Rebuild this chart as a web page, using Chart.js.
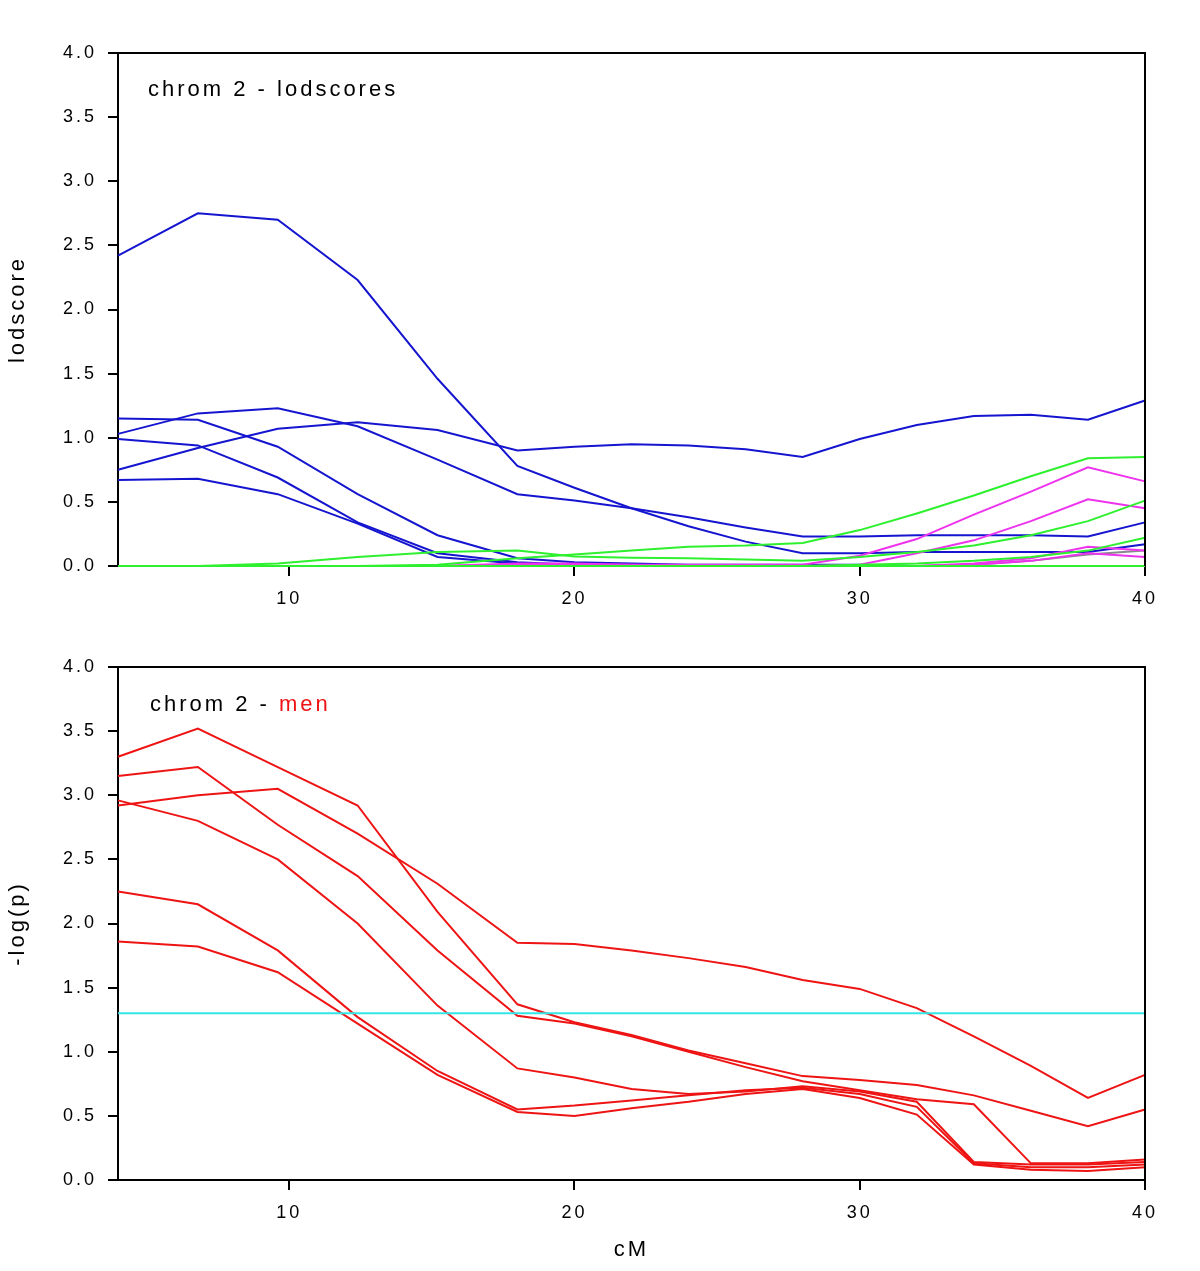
<!DOCTYPE html>
<html><head><meta charset="utf-8">
<script src="https://cdn.jsdelivr.net/npm/chart.js@4.4.0/dist/chart.umd.min.js"></script>
<style>
html,body{margin:0;padding:0;background:#fff;}
#wrap{position:relative;width:1200px;height:1271px;background:#fff;}
canvas{position:absolute;left:0;}
</style></head><body>
<div id="wrap">
<canvas id="topChart" width="1200" height="620" style="top:0"></canvas>
<canvas id="botChart" width="1200" height="651" style="top:620px"></canvas>
</div>
<script>
// ---- data ----
const cM = [4, 6.8, 9.6, 12.4, 15.2, 18, 20, 22, 24, 26, 28, 30, 32, 34, 36, 38, 40];
const xTickValues = [10, 20, 30, 40];

// top panel: lodscores
const lodBlue1 = [2.42, 2.75, 2.70, 2.23, 1.46, 0.78, 0.61, 0.45, 0.31, 0.19, 0.10, 0.10, 0.11, 0.11, 0.11, 0.11, 0.17];
const lodBlue2 = [1.15, 1.14, 0.93, 0.56, 0.24, 0.06, 0.03, 0.02, 0.01, 0.01, 0.01, 0.01, 0.00, 0.00, 0.00, 0.00, 0.00];
const lodBlue3 = [1.03, 1.19, 1.23, 1.09, 0.83, 0.56, 0.51, 0.45, 0.38, 0.30, 0.23, 0.23, 0.24, 0.24, 0.24, 0.23, 0.34];
const lodBlue4 = [0.75, 0.92, 1.07, 1.12, 1.06, 0.90, 0.93, 0.95, 0.94, 0.91, 0.85, 0.99, 1.10, 1.17, 1.18, 1.14, 1.29];
const lodBlue5 = [0.99, 0.94, 0.69, 0.34, 0.10, 0.03, 0.01, 0.01, 0.00, 0.00, 0.00, 0.00, 0.00, 0.00, 0.00, 0.00, 0.00];
const lodBlue6 = [0.67, 0.68, 0.56, 0.33, 0.07, 0.02, 0.01, 0.00, 0.00, 0.00, 0.00, 0.00, 0.00, 0.00, 0.00, 0.00, 0.00];
const lodGreen1 = [0.00, 0.00, 0.00, 0.00, 0.01, 0.06, 0.09, 0.12, 0.15, 0.16, 0.18, 0.28, 0.41, 0.55, 0.70, 0.84, 0.85];
const lodGreen2 = [0.00, 0.00, 0.02, 0.07, 0.11, 0.12, 0.075, 0.065, 0.06, 0.05, 0.04, 0.07, 0.11, 0.16, 0.24, 0.35, 0.51];
const lodGreen3 = [0.00, 0.00, 0.00, 0.00, 0.00, 0.00, 0.00, 0.00, 0.00, 0.00, 0.00, 0.01, 0.02, 0.04, 0.07, 0.12, 0.22];
const lodGreen4 = [0.00, 0.00, 0.00, 0.00, 0.00, 0.00, 0.00, 0.00, 0.00, 0.00, 0.00, 0.00, 0.00, 0.00, 0.00, 0.00, 0.00];
const lodMagenta1 = [0.00, 0.00, 0.00, 0.00, 0.00, 0.02, 0.02, 0.01, 0.01, 0.01, 0.01, 0.08, 0.21, 0.40, 0.58, 0.77, 0.66];
const lodMagenta2 = [0.00, 0.00, 0.00, 0.00, 0.00, 0.01, 0.01, 0.01, 0.00, 0.00, 0.00, 0.01, 0.10, 0.20, 0.35, 0.52, 0.45];
const lodMagenta3 = [0.00, 0.00, 0.00, 0.00, 0.00, 0.00, 0.00, 0.00, 0.00, 0.00, 0.00, 0.00, 0.00, 0.02, 0.06, 0.15, 0.12];
const lodMagenta4 = [0.00, 0.00, 0.00, 0.00, 0.00, 0.00, 0.00, 0.00, 0.00, 0.00, 0.00, 0.00, 0.00, 0.01, 0.04, 0.10, 0.07];
const lodGrey1 = [0.00, 0.00, 0.00, 0.00, 0.00, 0.00, 0.00, 0.00, 0.00, 0.00, 0.00, 0.00, 0.00, 0.01, 0.04, 0.09, 0.12];

// bottom panel: -log(p), men
const menRed1 = [3.30, 3.52, 3.22, 2.92, 2.09, 1.37, 1.23, 1.13, 1.01, 0.91, 0.81, 0.78, 0.74, 0.66, 0.54, 0.42, 0.55];
const menRed2 = [3.15, 3.22, 2.77, 2.37, 1.79, 1.28, 1.22, 1.12, 1.00, 0.88, 0.77, 0.70, 0.63, 0.59, 0.13, 0.13, 0.16];
const menRed3 = [2.92, 3.00, 3.05, 2.70, 2.31, 1.85, 1.84, 1.79, 1.73, 1.66, 1.56, 1.49, 1.34, 1.12, 0.89, 0.64, 0.82];
const menRed4 = [2.96, 2.80, 2.50, 2.00, 1.36, 0.87, 0.80, 0.71, 0.67, 0.69, 0.73, 0.69, 0.61, 0.14, 0.12, 0.12, 0.14];
const menRed5 = [2.25, 2.15, 1.79, 1.27, 0.85, 0.55, 0.58, 0.62, 0.66, 0.70, 0.72, 0.67, 0.57, 0.13, 0.10, 0.10, 0.12];
const menRed6 = [1.86, 1.82, 1.62, 1.22, 0.82, 0.53, 0.50, 0.56, 0.61, 0.67, 0.71, 0.64, 0.51, 0.12, 0.08, 0.07, 0.10];
const sigLevel = 1.3;

// ---- styling ----
const BLUE = '#1515d0', GREEN = '#2ef02e', MAGENTA = '#ee33ee', GREY = '#8a8a8a', RED = '#ee1414', CYAN = '#33e6e6';
const FONT = '"Liberation Sans", Arial, sans-serif';
Chart.defaults.font.family = FONT;
Chart.defaults.color = '#000';

function series(arr, color) {
  return {
    data: cM.map((x, i) => ({ x: x, y: arr[i] })),
    borderColor: color, borderWidth: 2, pointRadius: 0, fill: false, tension: 0, clip: false
  };
}

const spacing = {
  id: 'spacing',
  beforeLayout(chart) { chart.ctx.letterSpacing = '3px'; },
  beforeDraw(chart) { chart.ctx.letterSpacing = '3px'; }
};

const boxAndLabel = {
  id: 'boxAndLabel',
  afterDraw(chart, args, opts) {
    const ctx = chart.ctx, a = chart.chartArea;
    ctx.save();
    ctx.strokeStyle = '#000';
    ctx.lineWidth = 2;
    ctx.beginPath();
    ctx.moveTo(a.left - 1, a.top);
    ctx.lineTo(a.right, a.top);
    ctx.lineTo(a.right, a.bottom);
    ctx.stroke();
    ctx.letterSpacing = '3px';
    ctx.font = '22px ' + FONT;
    ctx.textBaseline = 'middle';
    ctx.textAlign = 'left';
    let x = a.left + opts.dx;
    const y = a.top + opts.dy;
    opts.parts.forEach(p => {
      ctx.fillStyle = p.color;
      ctx.fillText(p.text, x, y);
      x += ctx.measureText(p.text).width;
    });
    ctx.restore();
  }
};

function makeOptions(cfg) {
  return {
    responsive: false,
    animation: false,
    events: [],
    layout: { padding: { top: cfg.padTop, right: 55, left: 0, bottom: 0 } },
    plugins: {
      legend: { display: false },
      tooltip: { enabled: false },
      boxAndLabel: { dx: cfg.labelDx, dy: cfg.labelDy, parts: cfg.parts }
    },
    scales: {
      x: {
        type: 'linear', min: 4, max: 40,
        afterBuildTicks: s => { s.ticks = xTickValues.map(v => ({ value: v })); },
        afterFit: s => { s.height = cfg.xHeight; },
        grid: { display: true, drawOnChartArea: false, drawTicks: true, tickLength: 10, color: '#000', lineWidth: 2 },
        border: { display: true, color: '#000', width: 2 },
        ticks: { padding: 12, font: { size: 18 }, color: '#000', callback: v => String(v), maxRotation: 0 },
        title: cfg.xTitle ? { display: true, text: cfg.xTitle, font: { size: 22 }, color: '#000', padding: { top: 0, bottom: 8 } } : { display: false }
      },
      y: {
        type: 'linear', min: 0, max: 4,
        afterFit: s => { s.width = 118; },
        grid: { display: true, drawOnChartArea: false, drawTicks: true, tickLength: 10, color: '#000', lineWidth: 2 },
        border: { display: true, color: '#000', width: 2 },
        ticks: { stepSize: 0.5, padding: 11, font: { size: 18 }, color: '#000', callback: v => Number(v).toFixed(1) },
        title: { display: true, text: cfg.yTitle, font: { size: 22 }, color: '#000', padding: { top: 5, bottom: 0 } }
      }
    }
  };
}

new Chart(document.getElementById('topChart'), {
  type: 'line',
  data: {
    datasets: [
      series(lodGreen4, GREEN), series(lodGreen3, GREEN), series(lodGreen2, GREEN), series(lodGreen1, GREEN),
      series(lodMagenta4, MAGENTA), series(lodMagenta3, MAGENTA), series(lodMagenta2, MAGENTA), series(lodMagenta1, MAGENTA),
      series(lodGrey1, GREY),
      series(lodBlue1, BLUE), series(lodBlue2, BLUE), series(lodBlue3, BLUE),
      series(lodBlue4, BLUE), series(lodBlue5, BLUE), series(lodBlue6, BLUE)
    ]
  },
  options: makeOptions({ padTop: 53, xHeight: 54, yTitle: 'lodscore', xTitle: null,
    labelDx: 30, labelDy: 37, parts: [{ text: 'chrom 2 - lodscores', color: '#000' }] }),
  plugins: [spacing, boxAndLabel]
});

new Chart(document.getElementById('botChart'), {
  type: 'line',
  data: {
    datasets: [
      {
        data: [{ x: cM[0], y: sigLevel }, { x: cM[cM.length - 1], y: sigLevel }],
        borderColor: CYAN, borderWidth: 2, pointRadius: 0, fill: false, tension: 0
      },
      series(menRed1, RED), series(menRed2, RED), series(menRed3, RED),
      series(menRed4, RED), series(menRed5, RED), series(menRed6, RED)
    ]
  },
  options: makeOptions({ padTop: 47, xHeight: 91, yTitle: '-log(p)', xTitle: 'cM',
    labelDx: 32, labelDy: 38, parts: [{ text: 'chrom 2 - ', color: '#000' }, { text: 'men', color: RED }] }),
  plugins: [spacing, boxAndLabel]
});
</script>
</body></html>
